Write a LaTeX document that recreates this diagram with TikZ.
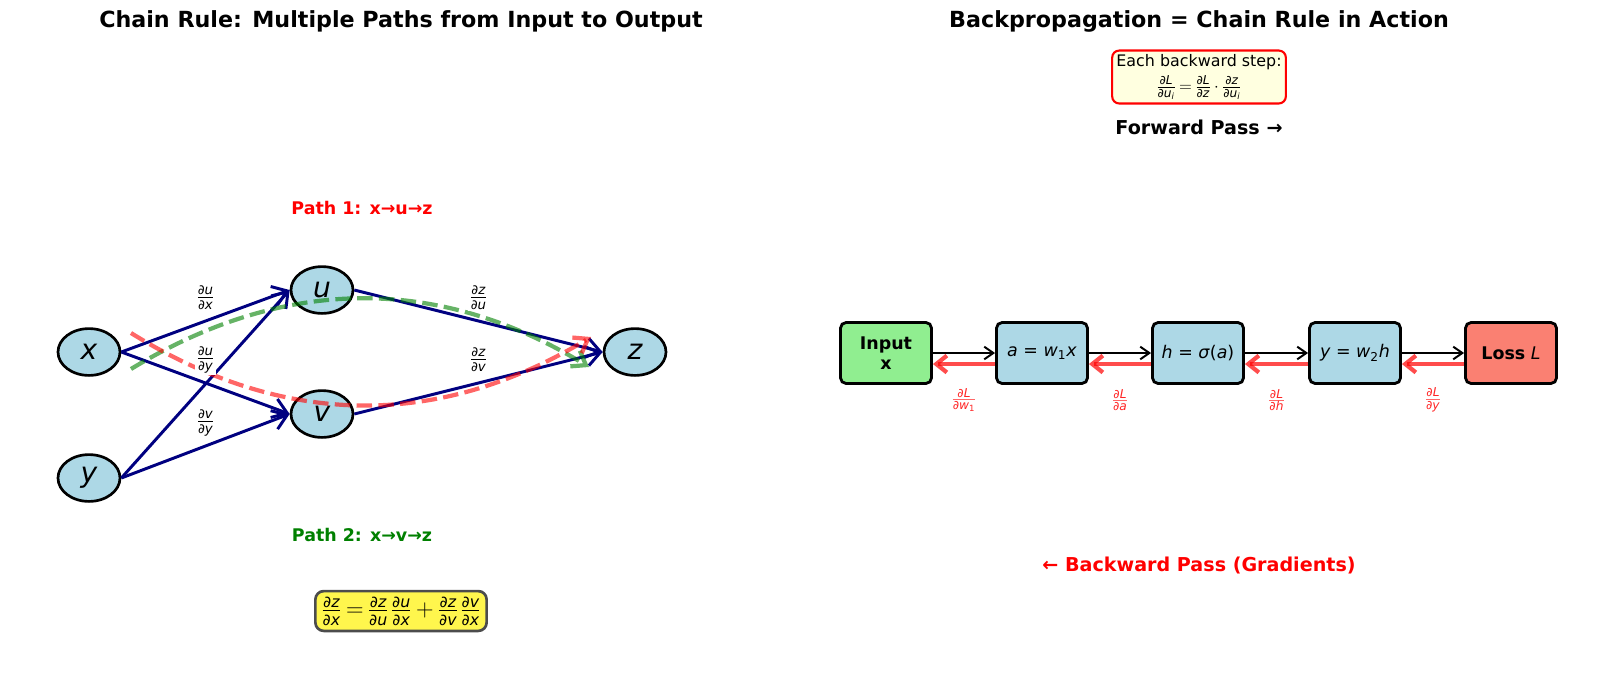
\documentclass[tikz,border=0pt]{standalone}
\usepackage{amsmath}
\usepackage{fontspec}
\setmainfont{DejaVu Sans}
\usetikzlibrary{arrows.meta,shapes.geometric}

\definecolor{lightblue}{RGB}{173,216,230}
\definecolor{lightgreen}{RGB}{144,238,144}
\definecolor{salmon}{RGB}{250,128,114}
\definecolor{navyblue}{RGB}{0,0,128}
\definecolor{lightyellow}{RGB}{255,255,224}
\definecolor{darkgreen}{RGB}{0,128,0}

\newcommand{\iv}[1]{\textit{#1}}
\newcommand{\pd}[2]{$\frac{\text{∂#1}}{\text{∂#2}}$}

\tikzset{
  title/.style={font=\fontsize{15.8}{19}\selectfont\bfseries},
  var/.style={ellipse, draw=black, line width=1.9pt, fill=lightblue,
    minimum width=1.55cm, minimum height=1.17cm, inner sep=0pt,
    font=\fontsize{20}{22}\selectfont\itshape},
  grad/.style={-{Straight Barb[length=10pt,width=14pt]}, draw=navyblue, line width=2.1pt},
  plab/.style={fill=white, inner sep=1pt, yshift=0.575cm, font=\fontsize{13.5}{15}\selectfont},
  path1/.style={-{Straight Barb[length=9pt,width=13pt]}, draw=red, draw opacity=0.6,
    line width=3pt, dash pattern=on 11pt off 4.5pt},
  path2/.style={path1, draw=darkgreen},
  pathtxt/.style={font=\fontsize{12.4}{14}\selectfont\bfseries},
  rulebox/.style={draw=black!70, fill=yellow!70!white, line width=1.9pt, rounded corners=6pt,
    inner xsep=4pt, inner ysep=4pt, font=\fontsize{16}{18}\selectfont},
  note/.style={draw=red, fill=lightyellow, line width=1.5pt, rounded corners=5pt, align=center,
    inner xsep=3pt, inner ysep=3pt, font=\fontsize{11.3}{13}\selectfont},
  passtxt/.style={font=\fontsize{13.6}{16}\selectfont\bfseries},
  stage/.style={draw=black, line width=2pt, rounded corners=4pt, fill=lightblue,
    minimum width=2.275cm, minimum height=1.525cm, inner sep=0pt, align=center,
    font=\fontsize{12.4}{14}\selectfont},
  fwd/.style={-{Straight Barb[length=6.5pt,width=9pt]}, draw=black, line width=1.4pt},
  bwd/.style={-{Straight Barb[length=7.5pt,width=12pt]}, draw=red, draw opacity=0.7, line width=3pt},
  glab/.style={text=red!85!white, yshift=-0.9cm, inner sep=0pt, font=\fontsize{12.4}{14}\selectfont}
}

\begin{document}
\begin{tikzpicture}[x=0.025cm, y=-0.025cm]
\useasboundingbox (0,0) rectangle (1600,679);

% left panel: two paths through u and v
\node[title] (lt) at (401,21) {Chain Rule: Multiple Paths from Input to Output};

\node[var] (x) at (89,352) {x};
\node[var] (y) at (89,478) {y};
\node[var] (u) at (322,290) {u};
\node[var] (v) at (322,414) {v};
\node[var] (z) at (635,352) {z};

\draw[grad] (x.east) -- (u.west);
\draw[grad] (x.east) -- (v.west);
\draw[grad] (y.east) -- (u.west);
\draw[grad] (y.east) -- (v.west);
\draw[grad] (u.east) -- (z.west);
\draw[grad] (v.east) -- (z.west);

\coordinate (g0) at (131,369);
\coordinate (g1) at (589,367);
\coordinate (r0) at (131,333);
\coordinate (r1) at (591,337);
\draw[path2] (g0) .. controls (284,276) and (438,275) .. (g1);
\draw[path1] (r0) .. controls (284,428) and (438,429) .. (r1);

\path (x.east) -- node[plab] {\pd{\iv{u}}{\iv{x}}} (u.west);
\path (x.east) -- node[plab] {\pd{\iv{u}}{\iv{y}}} (v.west);
\path (y.east) -- node[plab] {\pd{\iv{v}}{\iv{y}}} (v.west);
\path (u.east) -- node[plab] {\pd{\iv{z}}{\iv{u}}} (z.west);
\path (v.east) -- node[plab] {\pd{\iv{z}}{\iv{v}}} (z.west);

\node[pathtxt, text=red] (p1) at (362,208) {Path 1: x→u→z};
\node[pathtxt, text=darkgreen] (p2) at (362,535) {Path 2: x→v→z};

\node[rulebox] (cr) at (401,611)
  {\pd{\iv{z}}{\iv{x}}$\,=\,$\pd{\iv{z}}{\iv{u}}\kern1pt\pd{\iv{u}}{\iv{x}}$\,+\,$\pd{\iv{z}}{\iv{v}}\kern1pt\pd{\iv{v}}{\iv{x}}};

% right panel: forward and backward pass
\node[title] (rt) at (1199,21) {Backpropagation = Chain Rule in Action};
\node[note] (step) at (1199,77)
  {Each backward step:\\[3pt]
   {\fontsize{12.4}{14}\selectfont\pd{\iv{L}}{\iv{u}\textsubscript{\iv{i}}}$\,=\,$\pd{\iv{L}}{\iv{z}}$\,\cdot\,$\pd{\iv{z}}{\iv{u}\textsubscript{\iv{i}}}}};
\node[passtxt] (fp) at (1199,127) {Forward Pass →};
\node[passtxt, text=red] (bp) at (1199,565) {← Backward Pass (Gradients)};

\node[stage, fill=lightgreen, font=\fontsize{12.4}{14}\selectfont\bfseries] (inp) at (886,353) {Input\\x};
\node[stage] (a) at (1042,353) {\iv{a} = \iv{w}\textsubscript{1}\iv{x}};
\node[stage] (h) at (1198,353) {\iv{h} = \iv{σ}(\iv{a})};
\node[stage] (out) at (1355,353) {\iv{y} = \iv{w}\textsubscript{2}\iv{h}};
\node[stage, fill=salmon] (loss) at (1511,353) {\textbf{Loss} \iv{L}};

\draw[fwd] (inp.east) -- (a.west);
\draw[fwd] (a.east) -- (h.west);
\draw[fwd] (h.east) -- (out.west);
\draw[fwd] (out.east) -- (loss.west);

\draw[bwd] ([yshift=-0.275cm]a.west) -- ([yshift=-0.275cm]inp.east)
  node[glab, midway] {\pd{\iv{L}}{\iv{w}\textsubscript{1}}};
\draw[bwd] ([yshift=-0.275cm]h.west) -- ([yshift=-0.275cm]a.east)
  node[glab, midway] {\pd{\iv{L}}{\iv{a}}};
\draw[bwd] ([yshift=-0.275cm]out.west) -- ([yshift=-0.275cm]h.east)
  node[glab, midway] {\pd{\iv{L}}{\iv{h}}};
\draw[bwd] ([yshift=-0.275cm]loss.west) -- ([yshift=-0.275cm]out.east)
  node[glab, midway] {\pd{\iv{L}}{\iv{y}}};
\end{tikzpicture}
\end{document}
